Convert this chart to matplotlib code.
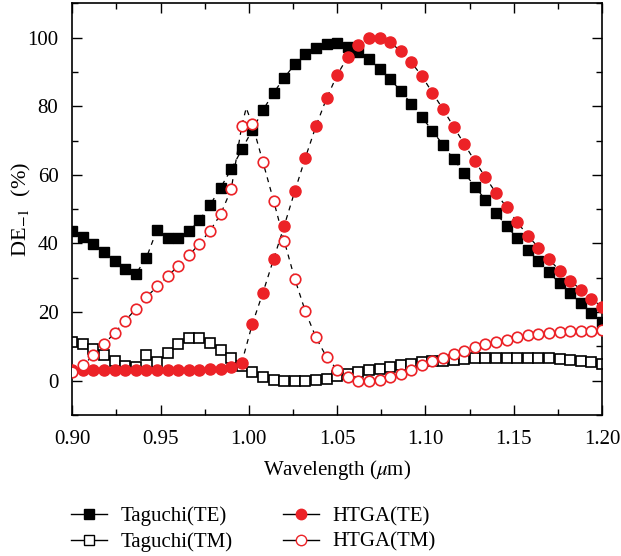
import numpy as np
import matplotlib.pyplot as plt
from matplotlib.lines import Line2D
from matplotlib.ticker import MultipleLocator

plt.rcParams['font.family'] = ['Liberation Serif', 'DejaVu Serif']
plt.rcParams['mathtext.fontset'] = 'stix'

# wavelength samples (um), 0.006 step
wl = np.linspace(0.90, 1.20, 51)

taguchi_te = [43.5, 41.8, 39.8, 37.5, 34.9, 32.6, 31.1, 35.9, 44.0, 41.5,
              41.5, 43.5, 46.8, 51.2, 56.3, 61.6, 67.4, 73.1, 78.9, 83.9,
              88.3, 92.2, 95.1, 97.0, 98.1, 98.3, 97.4, 95.9, 93.7, 91.0,
              87.9, 84.5, 80.7, 76.8, 72.8, 68.7, 64.5, 60.6, 56.6, 52.7,
              48.8, 45.1, 41.5, 38.1, 34.9, 31.6, 28.4, 25.5, 22.6, 19.7,
              17.0]

taguchi_tm = [11.4, 10.6, 9.3, 7.6, 5.6, 4.2, 3.9, 7.4, 5.4, 8.1,
              10.8, 12.4, 12.4, 11.1, 9.0, 6.6, 4.4, 2.5, 1.2, 0.3,
              -0.2, -0.2, 0.0, 0.3, 0.6, 1.3, 1.9, 2.4, 3.0, 3.5,
              4.0, 4.5, 5.0, 5.4, 5.6, 5.8, 6.1, 6.4, 6.6, 6.6,
              6.7, 6.7, 6.7, 6.7, 6.6, 6.6, 6.4, 6.1, 5.8, 5.4,
              5.0]

htga_te = [3.2, 3.2, 3.2, 3.2, 3.2, 3.2, 3.2, 3.2, 3.2, 3.2,
           3.2, 3.2, 3.2, 3.3, 3.5, 3.9, 5.3, 16.6, 25.7, 35.4,
           45.1, 55.2, 65.0, 74.2, 82.3, 89.1, 94.4, 98.0, 99.8, 99.8,
           98.6, 96.1, 92.8, 88.8, 83.9, 79.1, 74.0, 69.0, 64.0, 59.3,
           54.7, 50.5, 46.2, 42.3, 38.8, 35.4, 32.1, 29.2, 26.5, 23.9,
           21.5]

htga_tm = [2.4, 4.5, 7.4, 10.7, 13.9, 17.5, 20.9, 24.3, 27.5, 30.4,
           33.5, 36.5, 39.9, 43.7, 48.5, 55.8, 74.3, 74.7, 63.7, 52.5,
           40.8, 29.7, 20.2, 12.6, 6.9, 3.2, 1.0, 0.0, -0.2, 0.3,
           1.1, 1.9, 3.2, 4.5, 5.6, 6.6, 7.9, 8.7, 9.7, 10.7,
           11.3, 11.9, 12.7, 13.2, 13.7, 13.9, 14.2, 14.4, 14.6, 14.6,
           14.8]

# the HTGA(TM) line peaks between two samples
tm_peak_x = 0.9985
tm_peak_y = 79.5

red = '#ec2227'
fig = plt.figure(figsize=(6.21, 5.56), dpi=100)
ax = fig.add_axes([0.1164, 0.2536, 0.8530, 0.7404])

line_kw = dict(color='black', lw=0.9, ls=(0, (4, 4)), zorder=1)
ax.plot(wl, taguchi_te, **line_kw)
ax.plot(wl, taguchi_tm, **line_kw)
ax.plot(wl, htga_te, **line_kw)
i = np.searchsorted(wl, tm_peak_x)
ax.plot(np.insert(wl, i, tm_peak_x), np.insert(htga_tm, i, tm_peak_y), **line_kw)

ax.plot(wl, taguchi_te, ls='none', marker='s', ms=7.2, mfc='black', mec='black', zorder=3)
ax.plot(wl, taguchi_tm, ls='none', marker='s', ms=6.8, mfc='white', mec='black', mew=1.2, zorder=2)
ax.plot(wl, htga_te, ls='none', marker='o', ms=8, mfc=red, mec=red, zorder=4)
ax.plot(wl, htga_tm, ls='none', marker='o', ms=7.6, mfc='white', mec=red, mew=1.2, zorder=4)

ax.set_xlim(0.90, 1.20)
ax.set_ylim(-10, 110)
ax.xaxis.set_major_locator(MultipleLocator(0.05))
ax.xaxis.set_minor_locator(MultipleLocator(0.025))
ax.set_yticks([0, 20, 40, 60, 80, 100])
ax.yaxis.set_minor_locator(MultipleLocator(10))
ax.xaxis.set_major_formatter(plt.FuncFormatter(lambda v, p: f'{v:.2f}'))
ax.tick_params(which='both', direction='in', top=True, right=True, labelsize=15, width=1.0)
ax.tick_params(which='major', length=7)
ax.tick_params(which='minor', length=4)
ax.tick_params(axis='x', pad=11)
ax.tick_params(axis='y', pad=10)
for s in ax.spines.values():
    s.set_linewidth(1.2)

ax.set_xlabel(r'Wavelength ($\mu$m)', fontsize=15, labelpad=6)
ax.set_ylabel(r'DE$_{-1}$  (%)', fontsize=16, labelpad=-4)

handles = [
    Line2D([], [], color='black', lw=1, marker='s', ms=7, mfc='black', mec='black'),
    Line2D([], [], color='black', lw=1, marker='s', ms=7, mfc='white', mec='black'),
    Line2D([], [], color='black', lw=1, marker='o', ms=7.5, mfc=red, mec=red),
    Line2D([], [], color='black', lw=1, marker='o', ms=7.5, mfc='white', mec=red),
]
labels = ['Taguchi(TE)', 'Taguchi(TM)', 'HTGA(TE)', 'HTGA(TM)']
fig.legend(handles, labels, ncol=2, loc='upper left', bbox_to_anchor=(0.097, 0.108),
           frameon=False, fontsize=15, handlelength=1.75, handletextpad=0.65,
           columnspacing=2.4, labelspacing=0.3, borderpad=0)

fig.savefig('out.png', dpi=100)
